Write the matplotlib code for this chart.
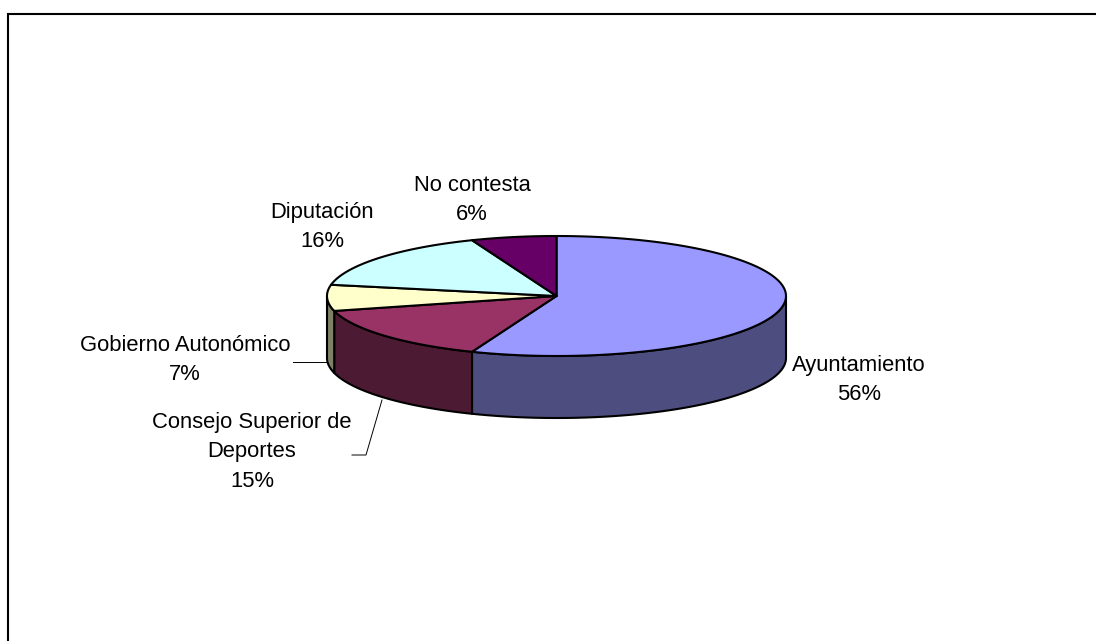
import numpy as np
import matplotlib
matplotlib.use("Agg")
import matplotlib.pyplot as plt

plt.rcParams['font.family'] = ['Liberation Sans', 'DejaVu Sans']

# data, clockwise from 12 o'clock
names = ['Ayuntamiento', 'Consejo Superior de\nDeportes', 'Gobierno Autonómico', 'Diputación', 'No contesta']
values = [56, 15, 7, 16, 6]
top_colors = ['#9999FF', '#993366', '#FFFFCC', '#CCFFFF', '#660066']
side_colors = ['#4D4D80', '#4D1A33', '#808066', '#668080', '#330033']

# pie geometry in pixels
cx, cy = 556.5, 296
rx, ry = 229.5, 60
depth = 62

label_pos = [(859, 380), (252, 452), (185, 360), (322, 227), (472, 200)]


def arc(a, b):
    t = np.radians(np.linspace(a, b, 120))
    return cx + rx * np.sin(t), cy - ry * np.cos(t)


fig = plt.figure(figsize=(10.96, 6.41), dpi=100)
ax = fig.add_axes([0, 0, 1, 1])
ax.set_xlim(0, 1096)
ax.set_ylim(641, 0)
ax.axis('off')

# chart frame, runs off the right and bottom edge
ax.plot([1100, 7.5, 7.5], [14, 14, 645], color='black', lw=1.5, solid_joinstyle='miter')

edges = np.cumsum([0] + values) / sum(values) * 360

# side walls first, only the front half of the ellipse shows
for i in range(len(values)):
    a = max(edges[i], 90)
    b = min(edges[i + 1], 270)
    if a >= b:
        continue
    x, y = arc(a, b)
    ax.fill(np.r_[x, x[::-1]], np.r_[y, y[::-1] + depth], facecolor=side_colors[i],
            edgecolor='black', lw=1.5, joinstyle='round')

# top slices
for i in range(len(values)):
    x, y = arc(edges[i], edges[i + 1])
    ax.fill(np.r_[cx, x], np.r_[cy, y], facecolor=top_colors[i],
            edgecolor='black', lw=1.5, joinstyle='round')

# leader lines
ax.plot([293, 327], [362, 362], color='black', lw=0.7)
ax.plot([382, 366, 352], [400, 455, 455], color='black', lw=0.7)

for name, v, (x, y) in zip(names, values, label_pos):
    ax.text(x, y, f"{name}\n{v}%", ha='center', va='center', fontsize=15.8,
            color='black', linespacing=1.55)

fig.savefig('out.png', dpi=100)
